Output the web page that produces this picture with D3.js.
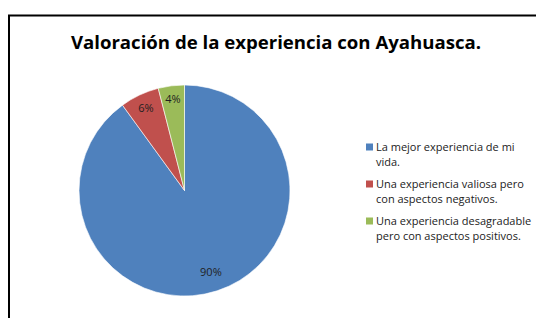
<!DOCTYPE html>
<html>
<head>
<meta charset="utf-8">
<script src="https://cdn.jsdelivr.net/npm/d3@7"></script>
<style>
body { margin: 0; background: #fff; }
</style>
</head>
<body>
<div id="chart"></div>
<script>
// data
var categories = [
	["La mejor experiencia de mi", "vida."],
	["Una experiencia valiosa pero", "con aspectos negativos."],
	["Una experiencia desagradable", "pero con aspectos  positivos."]
];
var values = [90, 6, 4];
var pctLabels = ["90%", "6%", "4%"];
var colors = ["#4f81bd", "#c0504d", "#9bbb59"];

var width = 536, height = 318;
var svg = d3.select("#chart").append("svg")
	.attr("width", width)
	.attr("height", height);

// frame (only top and left edges fall inside the window)
svg.append("path")
	.attr("d", "M9,318 V15.5 H536")
	.attr("fill", "none")
	.attr("stroke", "#000")
	.attr("stroke-width", 2);

svg.append("text")
	.attr("x", 276)
	.attr("y", 49)
	.attr("text-anchor", "middle")
	.attr("font-family", "Open Sans, sans-serif")
	.attr("font-weight", "bold")
	.attr("font-size", "18.6px")
	.attr("fill", "#000")
	.text("Valoración de la experiencia con Ayahuasca.");

var cx = 184.5, cy = 190.5, r = 105.5;

var pie = d3.pie().sort(null).value(function(d) { return d; });
var arc = d3.arc().innerRadius(0).outerRadius(r);
var arcs = pie(values);

var g = svg.append("g").attr("transform", "translate(" + cx + "," + cy + ")");
g.selectAll("path")
	.data(arcs)
	.enter()
	.append("path")
	.attr("d", arc)
	.attr("fill", function(d, i) { return colors[i]; })
	.attr("stroke", "#fff")
	.attr("stroke-width", 0.6);

// label radii relative to r
var labelPos = [0.81, 0.86, 0.875];
g.selectAll("text.pct")
	.data(arcs)
	.enter()
	.append("text")
	.attr("class", "pct")
	.attr("transform", function(d, i) {
		var c = d3.arc().innerRadius(r * labelPos[i]).outerRadius(r * labelPos[i]).centroid(d);
		return "translate(" + c[0] + "," + c[1] + ")";
	})
	.attr("dy", "0.35em")
	.attr("text-anchor", "middle")
	.attr("font-family", "Open Sans, sans-serif")
	.attr("font-size", "11px")
	.attr("fill", "#1f1f1f")
	.text(function(d, i) { return pctLabels[i]; });

// legend
var legend = svg.append("g").attr("transform", "translate(366,0)");
var groupY = [147, 184, 221];
categories.forEach(function(lines, i) {
	legend.append("rect")
		.attr("x", 0)
		.attr("y", groupY[i] - 3.5)
		.attr("width", 7)
		.attr("height", 7)
		.attr("fill", colors[i]);
	var t = legend.append("text")
		.attr("y", groupY[i] + 4)
		.attr("font-family", "Open Sans, sans-serif")
		.attr("font-size", "11px")
		.attr("fill", "#222");
	lines.forEach(function(line, j) {
		t.append("tspan")
			.attr("x", 10)
			.attr("dy", j === 0 ? 0 : 15)
			.text(line);
	});
});
</script>
</body>
</html>
